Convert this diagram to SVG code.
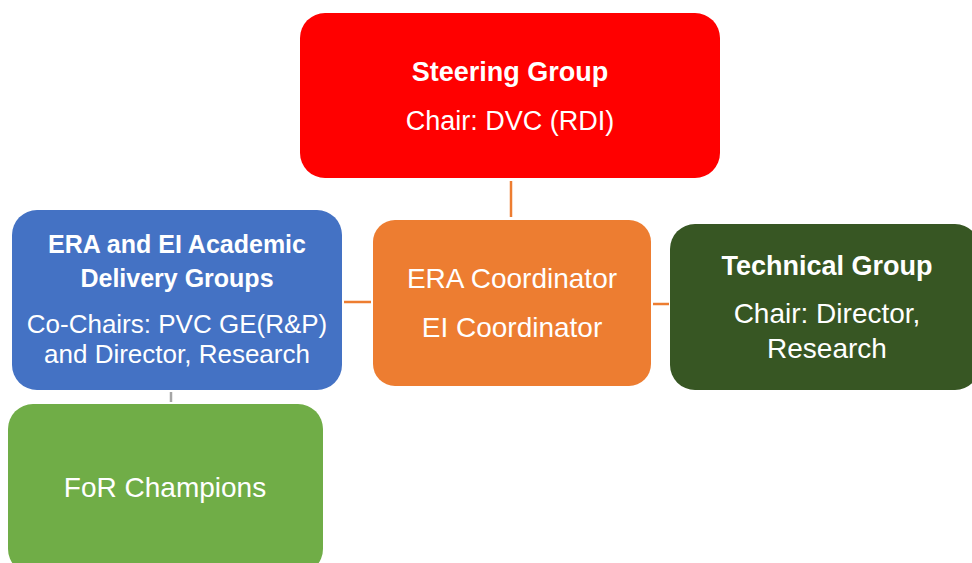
<svg xmlns="http://www.w3.org/2000/svg" width="972" height="563" viewBox="0 0 972 563">
<style>
text{font-family:"Liberation Sans",Arial,sans-serif;fill:#fff;text-anchor:middle;font-size:28px}
.b{font-weight:bold;font-size:27px}
.s{font-size:26px}
.sb{font-weight:bold;font-size:25px}
.c{stroke-width:2.5;fill:none}
</style>
<rect width="972" height="563" fill="#fff"/>
<g id="connectors">
<line class="c" x1="511" y1="181" x2="511" y2="217" stroke="#ED7D31"/>
<line class="c" x1="344" y1="302" x2="371" y2="302" stroke="#ED7D31"/>
<line class="c" x1="653" y1="304" x2="669" y2="304" stroke="#ED7D31"/>
<line class="c" x1="171" y1="392" x2="171" y2="402" stroke="#A5A5A5"/>
</g>
<g id="steering">
<rect x="300" y="13" width="420" height="165" rx="25" fill="#FF0000"/>
<text class="b" x="510" y="81">Steering Group</text>
<text x="510" y="130" style="font-size:27px">Chair: DVC (RDI)</text>
</g>
<g id="coordinator">
<rect x="373" y="220" width="278" height="166" rx="22" fill="#ED7D31"/>
<text x="512" y="288">ERA Coordinator</text>
<text x="512" y="337">EI Coordinator</text>
</g>
<g id="delivery">
<rect x="12" y="210" width="330" height="180" rx="25" fill="#4472C4"/>
<text class="sb" x="177" y="253">ERA and EI Academic</text>
<text class="sb" x="177" y="287">Delivery Groups</text>
<text class="s" x="177" y="333">Co-Chairs: PVC GE(R&amp;P)</text>
<text class="s" x="177" y="363">and Director, Research</text>
</g>
<g id="technical">
<rect x="670" y="224" width="310" height="166" rx="25" fill="#375623"/>
<text class="b" x="827" y="275">Technical Group</text>
<text x="827" y="323">Chair: Director,</text>
<text x="827" y="358">Research</text>
</g>
<g id="champions">
<rect x="8" y="404" width="315" height="170" rx="25" fill="#70AD47"/>
<text x="165" y="497">FoR Champions</text>
</g>
</svg>
